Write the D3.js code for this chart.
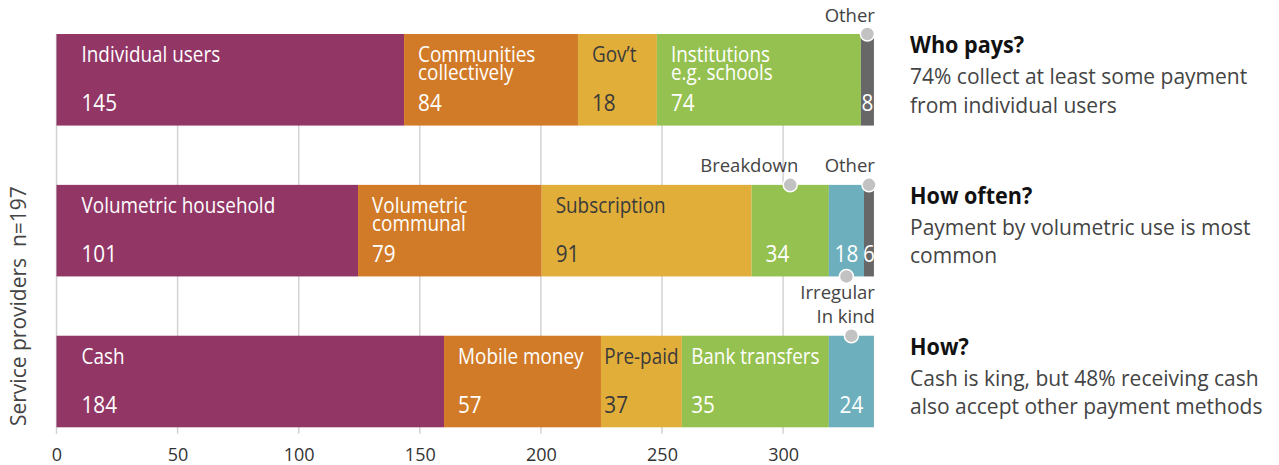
<!DOCTYPE html>
<html>
<head>
<meta charset="utf-8">
<script src="https://cdn.jsdelivr.net/npm/d3@7"></script>
<style>
  html, body { margin: 0; padding: 0; background: #fff; }
  svg { display: block; font-family: "Open Sans", "Noto Sans", sans-serif; }
</style>
</head>
<body>
<svg id="chart" width="1279" height="465"></svg>
<script>
// ---- data ----
const rows = ["Who pays?", "How often?", "How?"];
const whoPaysNames = ["Individual users", "Communities\ncollectively", "Gov’t", "Institutions\ne.g. schools", "Other"];
const whoPaysLengths = [143.5, 71.8, 32.6, 84.2, 5.4];
const whoPaysCounts = [145, 84, 18, 74, 8];
const howOftenNames = ["Volumetric household", "Volumetric\ncommunal", "Subscription", "Breakdown", "Irregular", "Other"];
const howOftenLengths = [124.5, 75.8, 86.7, 31.9, 14.5, 4.1];
const howOftenCounts = [101, 79, 91, 34, 18, 6];
const howNames = ["Cash", "Mobile money", "Pre-paid", "Bank transfers", "In kind"];
const howLengths = [160.0, 64.8, 33.4, 60.7, 18.6];
const howCounts = [184, 57, 37, 35, 24];
const subtitles = [
  ["74% collect at least some payment", "from individual users"],
  ["Payment by volumetric use is most", "common"],
  ["Cash is king, but 48% receiving cash", "also accept other payment methods"]
];
const xTicks = [0, 50, 100, 150, 200, 250, 300];
const yAxisLabel = "Service providers  n=197";

// ---- setup ----
const svg = d3.select("#chart");
const x = d3.scaleLinear().domain([0, 340]).range([56.5, 56.5 + 340 * 2.422]);
const y = d3.scaleBand().domain(rows).range([34, 427.3]).paddingInner(0.393).paddingOuter(0);
const bw = y.bandwidth();
const SX = 0.9; // horizontal squeeze of in-bar text

const palette = ["#923666", "#D17B28", "#E2AE3A", "#95C150", "#6DAFBC"];
const otherColor = "#676767";
const darkText = "#3a3a3a";

const rowData = [
  { row: rows[0], names: whoPaysNames, lengths: whoPaysLengths, counts: whoPaysCounts, sub: subtitles[0] },
  { row: rows[1], names: howOftenNames, lengths: howOftenLengths, counts: howOftenCounts, sub: subtitles[1] },
  { row: rows[2], names: howNames, lengths: howLengths, counts: howCounts, sub: subtitles[2] }
];

// gridlines + axis ticks
const gridBottom = y(rows[2]) + bw + 6.5;
svg.append("g").selectAll("line").data(xTicks).join("line")
  .attr("x1", d => x(d)).attr("x2", d => x(d))
  .attr("y1", y(rows[0])).attr("y2", gridBottom)
  .attr("stroke", "#d3d3d3").attr("stroke-width", 1.5);

const axis = svg.append("g").attr("transform", `translate(0,${gridBottom})`)
  .call(d3.axisBottom(x).tickValues(xTicks).tickSize(0).tickPadding(0));
axis.select(".domain").remove();
axis.selectAll("text").attr("font-size", 18).attr("fill", "#333")
  .attr("font-family", "Open Sans, Noto Sans, sans-serif")
  .attr("dy", null).attr("y", 27);

// y axis label
const yMid = (y(rows[1]) + y(rows[2]) + bw) / 2;
svg.append("text")
  .attr("transform", `translate(26,${yMid}) rotate(-90)`)
  .attr("text-anchor", "middle")
  .attr("font-size", 21).attr("fill", "#444")
  .style("white-space", "pre")
  .text(yAxisLabel);

const xEnd = x(d3.max(rowData, r => d3.sum(r.lengths)));

rowData.forEach(r => {
  const top = y(r.row);
  let acc = 0;
  const segs = r.names.map((n, i) => {
    const s = { name: n, len: r.lengths[i], count: r.counts[i], x0: acc, i };
    acc += r.lengths[i];
    s.color = n === "Other" ? otherColor : palette[i];
    s.textColor = s.color === palette[2] ? darkText : "#fff";
    return s;
  });
  const g = svg.append("g");
  g.selectAll("rect").data(segs).join("rect")
    .attr("x", d => x(d.x0)).attr("y", top)
    .attr("width", d => x(d.x0 + d.len) - x(d.x0)).attr("height", bw)
    .attr("fill", d => d.color);

  const annotated = [];
  segs.forEach(s => {
    const sx = x(s.x0), w = x(s.x0 + s.len) - sx;
    const nameT = g.append("text").attr("font-size", 21).attr("fill", s.textColor);
    let nameW = 0;
    s.name.split("\n").forEach((ln, k) => {
      const ts = nameT.append("tspan").attr("x", 0).attr("y", k * 18).text(ln);
      nameW = Math.max(nameW, ts.node().getComputedTextLength());
    });
    nameW *= SX;
    const numT = g.append("text").attr("font-size", 23).attr("fill", s.textColor).text(s.count);
    const numW = numT.node().getComputedTextLength() * SX;
    const nameFits = nameW + 2 <= w;
    const tw = nameFits ? Math.max(nameW, numW) : numW;
    const pad = s.i === 0 ? 25 : Math.min(14, (w - tw) / 2);
    if (nameFits) {
      nameT.attr("transform", `translate(${sx + pad},${top + 28}) scale(${SX},1)`);
    } else {
      nameT.remove();
      annotated.push({ s, cx: sx + w / 2 });
    }
    numT.attr("transform", `translate(${sx + pad},${top + 77}) scale(${SX},1)`);
  });

  // annotations with markers
  annotated.forEach((a, k) => { a.side = k % 2 === 0 ? "top" : "bottom"; });
  ["top", "bottom"].forEach(side => {
    const list = annotated.filter(a => a.side === side);
    list.forEach((a, k) => {
      const cy = side === "top" ? top : top + bw;
      const last = k === list.length - 1;
      const tx = last ? xEnd + 1 : a.cx + 8;
      svg.append("text")
        .attr("x", tx).attr("y", side === "top" ? top - 12.5 : top + bw + 23)
        .attr("text-anchor", "end").attr("font-size", 18.5).attr("fill", "#444")
        .text(a.s.name);
      svg.append("circle").attr("cx", a.cx).attr("cy", cy).attr("r", 7)
        .attr("fill", "#c2c2c2").attr("stroke", "#fff").attr("stroke-width", 1.5);
    });
  });

  // right-hand commentary
  svg.append("text").attr("transform", `translate(910,${top + 19}) scale(0.9,1)`)
    .attr("font-size", 24).attr("font-weight", 700).attr("fill", "#111").text(r.row);
  r.sub.forEach((ln, k) => {
    svg.append("text").attr("x", 910).attr("y", top + 50 + k * 28.5)
      .attr("font-size", 21).attr("fill", "#444").text(ln);
  });
});
</script>
</body>
</html>
